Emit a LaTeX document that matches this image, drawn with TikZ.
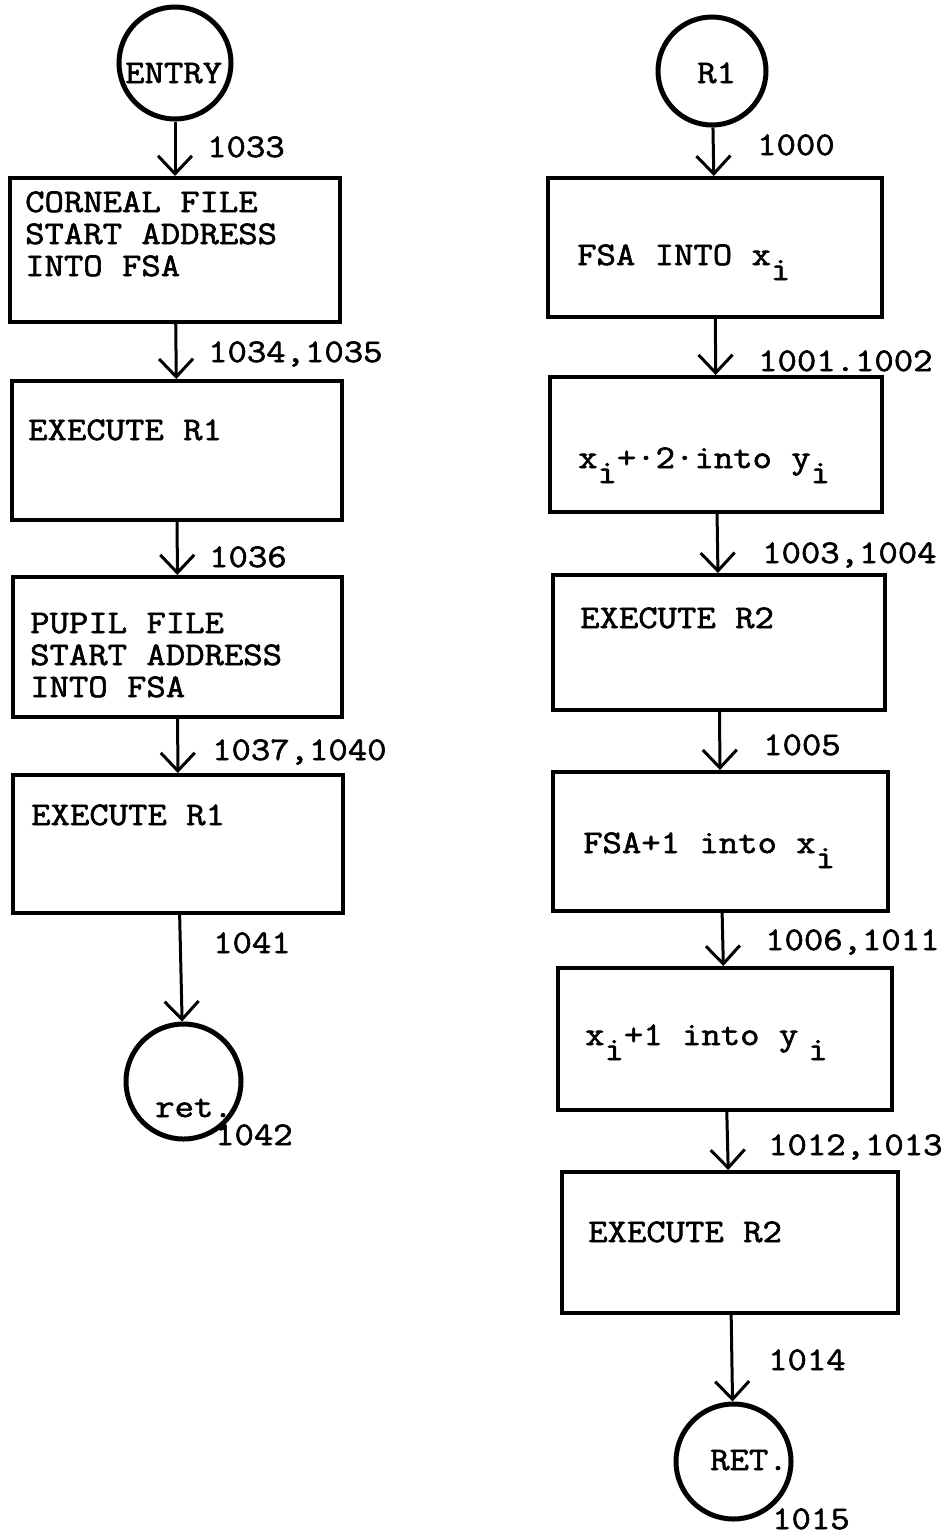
\documentclass[tikz,border=0pt]{standalone}
\usepackage{fontspec}
\newfontfamily\typer{Latin Modern Mono}[FakeStretch=1.14,FakeBold=1.8]
\usetikzlibrary{arrows.meta}

\tikzset{
  box/.style={draw, line width=4pt, inner sep=0pt},
  term/.style={draw, circle, line width=5pt, inner sep=0pt},
  txt/.style={font=\typer\fontsize{33}{32}\selectfont, inner sep=0pt, anchor=base west, align=left},
  flow/.style={line width=3pt, -{Straight Barb[length=18pt,width=34pt]}},
}
\newcommand{\low}[1]{\raisebox{-15pt}{#1}}

\begin{document}
\begin{tikzpicture}[x=1pt,y=-1pt]
            \useasboundingbox (0,0) rectangle (946,1537);

            \node[term, minimum size=112] (entry) at (175,63) {};
            \node[box, minimum width=330, minimum height=144] (c1) at (175,250) {};
            \node[box, minimum width=330, minimum height=139] (c2) at (177,450.5) {};
            \node[box, minimum width=329, minimum height=140] (c3) at (177.5,647) {};
            \node[box, minimum width=330, minimum height=138] (c4) at (178,844) {};
            \node[term, minimum size=115] (ret) at (183.5,1081.5) {};

            \node[txt] (entryt) at (125,83) {ENTRY};
            \node[txt] (c1t) at (25,276) {CORNEAL FILE\\START ADDRESS\\INTO FSA};
            \node[txt] (c2t) at (28,440) {EXECUTE R1};
            \node[txt] (c3t) at (30,697) {PUPIL FILE\\START ADDRESS\\INTO FSA};
            \node[txt] (c4t) at (31,825) {EXECUTE R1};
            \node[txt] (rett) at (155,1117) {ret.};

            \draw[flow] (entry) -- (c1);
            \draw[flow] (c1) -- (c2);
            \draw[flow] (c2) -- (c3);
            \draw[flow] (c3) -- (c4);
            \draw[flow] (c4) -- (ret);

            \node[txt] (l1033) at (207,157) {1033};
            \node[txt] (l1034) at (208,362) {1034,1035};
            \node[txt] (l1036) at (209,567) {1036};
            \node[txt] (l1037) at (212,760) {1037,1040};
            \node[txt] (l1041) at (213,953) {1041};
            \node[txt] (l1042) at (215,1145) {1042};

            \node[term, minimum size=108] (r1) at (712,71) {};
            \node[box, minimum width=334, minimum height=139] (d1) at (715,247.5) {};
            \node[box, minimum width=332, minimum height=135] (d2) at (716,444.5) {};
            \node[box, minimum width=332, minimum height=135] (d3) at (719,642.5) {};
            \node[box, minimum width=335, minimum height=139] (d4) at (720.5,841.5) {};
            \node[box, minimum width=334, minimum height=142] (d5) at (725,1039) {};
            \node[box, minimum width=336, minimum height=141] (d6) at (730,1242.5) {};
            \node[term, minimum size=115] (back) at (733.5,1461.5) {};

            \node[txt] (r1t) at (697,83) {R1};
            \node[txt] (d1t) at (577,265) {FSA INTO x\low{i}};
            \node[txt] (d2t) at (578,468) {x\low{i}+·2·into y\low{i}};
            \node[txt] (d3t) at (580,628) {EXECUTE R2};
            \node[txt] (d4t) at (583,853) {FSA+1 into x\low{i}};
            \node[txt] (d5t) at (585,1045) {x\low{i}+1 into y\hspace{10pt}\low{i}};
            \node[txt] (d6t) at (588,1242) {EXECUTE R2};
            \node[txt] (backt) at (710,1470) {RET.};

            \draw[flow] (r1) -- (d1);
            \draw[flow] (d1) -- (d2);
            \draw[flow] (d2) -- (d3);
            \draw[flow] (d3) -- (d4);
            \draw[flow] (d4) -- (d5);
            \draw[flow] (d5) -- (d6);
            \draw[flow] (d6) -- (back);

            \node[txt] (l1000) at (757,155) {1000};
            \node[txt] (l1001) at (758,371) {1001.1002};
            \node[txt] (l1003) at (762,563) {1003,1004};
            \node[txt] (l1005) at (763,755) {1005};
            \node[txt] (l1006) at (765,950) {1006,1011};
            \node[txt] (l1012) at (768,1155) {1012,1013};
            \node[txt] (l1014) at (768,1370) {1014};
            \node[txt] (l1015) at (772,1529) {1015};
\end{tikzpicture}
\end{document}
